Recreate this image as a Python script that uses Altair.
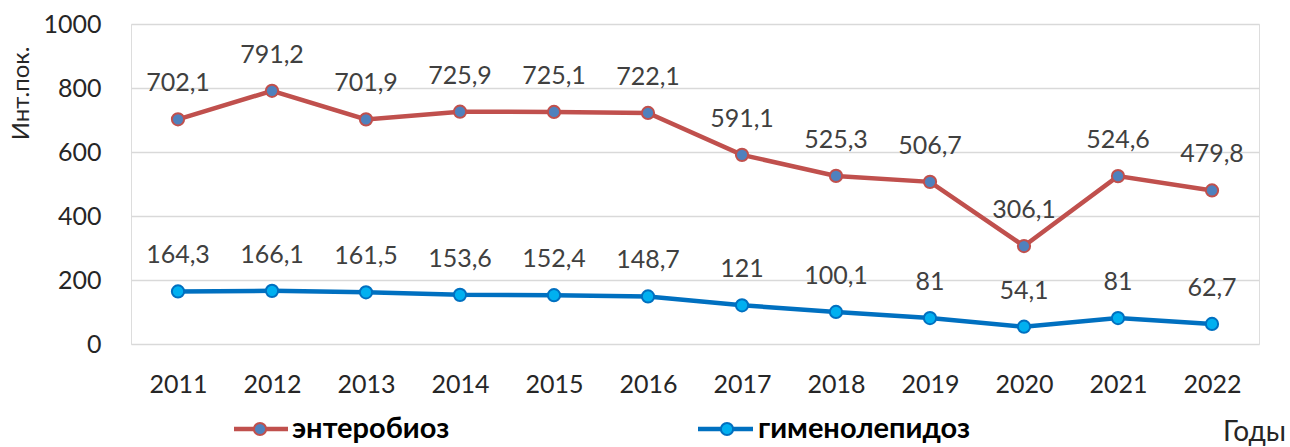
import altair as alt
import pandas as pd

years = ["2011", "2012", "2013", "2014", "2015", "2016", "2017", "2018", "2019", "2020", "2021", "2022"]
entero = [702.1, 791.2, 701.9, 725.9, 725.1, 722.1, 591.1, 525.3, 506.7, 306.1, 524.6, 479.8]
gimeno = [164.3, 166.1, 161.5, 153.6, 152.4, 148.7, 121, 100.1, 81, 54.1, 81, 62.7]
series_names = ["энтеробиоз", "гименолепидоз"]
line_colors = ["#C0504D", "#0070C0"]
point_fills = ["#4F81BD", "#00B0F0"]

FONT = "Lato"


def fmt(v):
    return f"{v:g}".replace(".", ",")


rows = []
for name, vals in zip(series_names, [entero, gimeno]):
    for y, v in zip(years, vals):
        rows.append({"year": y, "value": v, "series": name, "label": fmt(v)})
df = pd.DataFrame(rows)

x_enc = alt.X("year:O", sort=years,
              scale=alt.Scale(type="point", padding=0.5),
              axis=alt.Axis(title=None, domain=False, ticks=False, grid=False,
                            labelAngle=0, labelFont=FONT, labelFontSize=25,
                            labelColor="#262626", labelPadding=28))
y_enc = alt.Y("value:Q",
              scale=alt.Scale(domain=[0, 1000], nice=False),
              axis=alt.Axis(values=[0, 200, 400, 600, 800, 1000], format="d",
                            domain=False, ticks=False,
                            gridColor="#D9D9D9", gridWidth=1.5,
                            labelFont=FONT, labelFontSize=25, labelColor="#262626",
                            labelPadding=30,
                            title="Инт.пок.", titleFont=FONT, titleFontSize=24,
                            titleFontWeight="normal", titleColor="#262626",
                            titleAngle=-90, titleAlign="center", titleBaseline="bottom",
                            titleX=-98, titleY=69))

color_scale = alt.Scale(domain=series_names, range=line_colors)
fill_scale = alt.Scale(domain=series_names, range=point_fills)

base = alt.Chart(df).encode(x=x_enc, y=y_enc)

lines = base.mark_line(strokeWidth=4.5).encode(
    color=alt.Color("series:N", scale=color_scale, legend=None),
    detail="series:N")
points = base.mark_point(filled=True, size=150, strokeWidth=2, opacity=1).encode(
    fill=alt.Fill("series:N", scale=fill_scale, legend=None),
    stroke=alt.Stroke("series:N", scale=color_scale, legend=None))
labels = base.mark_text(font=FONT, fontSize=25, color="#404040",
                        baseline="alphabetic", dy=-28).encode(text="label:N")

# manual legend
leg_df = pd.DataFrame({"series": series_names,
                       "x0": [234, 698], "xc": [260, 727], "x1": [288, 753], "xt": [292, 758]})
legend_layers = []
for i, name in enumerate(series_names):
    d = leg_df[leg_df.series == name]
    r = leg_df.iloc[i]
    yl = 429 - 24
    legend_layers.append(alt.Chart(d).mark_rule(strokeWidth=4.5, color=line_colors[i]).encode(
        x=alt.value(r.x0 - 131), x2=alt.value(r.x1 - 131), y=alt.value(yl)))
    legend_layers.append(alt.Chart(d).mark_point(filled=True, size=150, strokeWidth=2, opacity=1,
                                                 fill=point_fills[i], stroke=line_colors[i]).encode(
        x=alt.value(r.xc - 131), y=alt.value(yl)))
    legend_layers.append(alt.Chart(d).mark_text(font=FONT, fontSize=29, fontWeight="bold",
                                                color="#000000", align="left", baseline="middle").encode(
        x=alt.value(r.xt - 131), y=alt.value(yl), text="series:N"))

godi = alt.Chart(pd.DataFrame({"t": ["Годы"]})).mark_text(
    font=FONT, fontSize=28, color="#262626", align="right", baseline="middle").encode(
    x=alt.value(1286 - 131), y=alt.value(433 - 24), text="t:N")

chart = alt.layer(lines, points, labels, *legend_layers, godi).properties(
    width=1128, height=320,
    autosize=alt.AutoSizeParams(type="none"),
    padding={"left": 131, "top": 24, "right": 31, "bottom": 103},
).configure_view(stroke=None).configure(background="white")

chart.save("out.html", embed_options={"renderer": "svg", "actions": False})
